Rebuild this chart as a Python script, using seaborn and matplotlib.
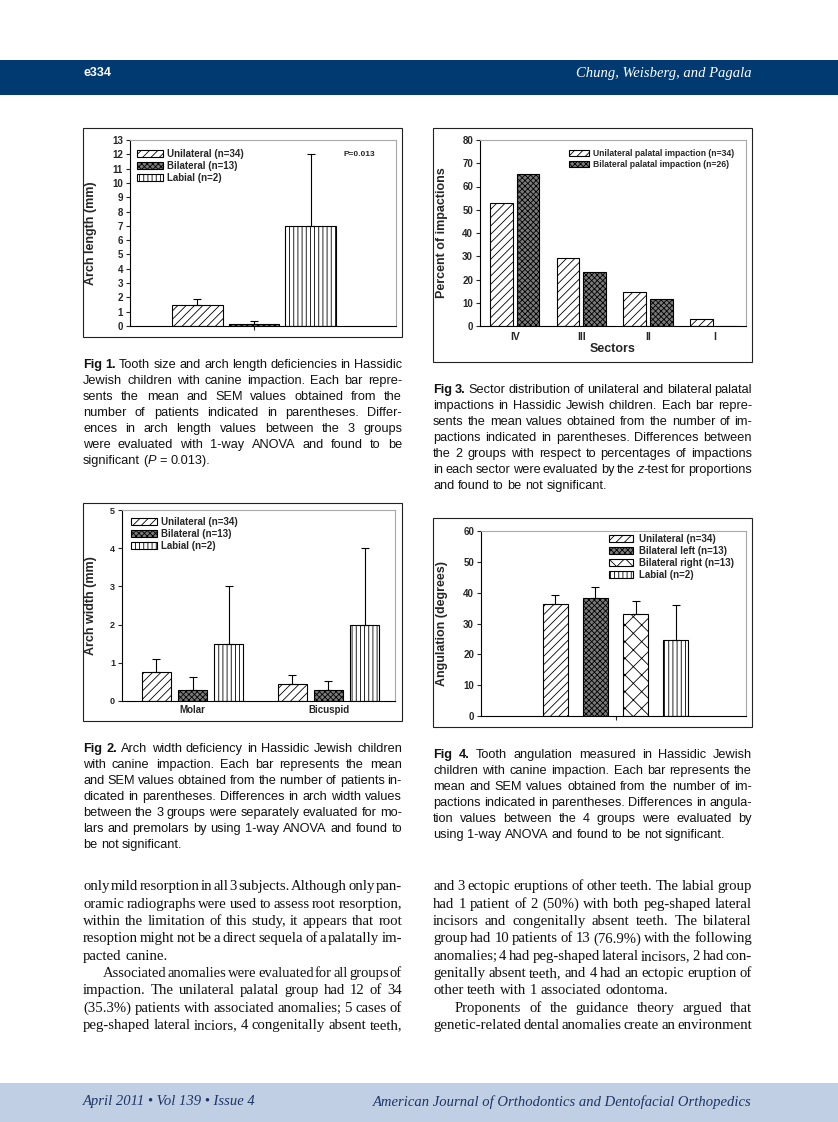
import re
import numpy as np
import pandas as pd
import matplotlib
matplotlib.use("Agg")
import matplotlib.pyplot as plt
import seaborn as sns
from matplotlib.patches import Rectangle, Patch
from matplotlib.font_manager import FontProperties

W, H = 838, 1122

# ---------------- data ----------------
fig1_groups = ["Unilateral (n=34)", "Bilateral (n=13)", "Labial (n=2)"]
fig1_mean = [1.5, 0.15, 7.0]
fig1_sem = [0.4, 0.2, 5.0]

fig2_sites = ["Molar", "Bicuspid"]
fig2_groups = ["Unilateral (n=34)", "Bilateral (n=13)", "Labial (n=2)"]
fig2_uni_mean = [0.75, 0.45]
fig2_bi_mean = [0.30, 0.30]
fig2_lab_mean = [1.5, 2.0]
fig2_uni_sem = [0.35, 0.24]
fig2_bi_sem = [0.32, 0.22]
fig2_lab_sem = [1.5, 2.0]

fig3_sectors = ["IV", "III", "II", "I"]
fig3_groups = ["Unilateral palatal impaction (n=34)", "Bilateral palatal impaction (n=26)"]
fig3_uni = [52.9, 29.4, 14.7, 2.9]
fig3_bi = [65.4, 23.1, 11.5, 0.0]

fig4_groups = ["Unilateral (n=34)", "Bilateral left (n=13)", "Bilateral right (n=13)", "Labial (n=2)"]
fig4_mean = [36.4, 38.2, 33.1, 24.5]
fig4_sem = [2.8, 3.5, 4.2, 11.5]

# ---------------- texts ----------------
header_left = "e334"
header_right = "Chung, Weisberg, and Pagala"
footer_left = "April 2011 \u2022 Vol 139 \u2022 Issue 4"
footer_right = "American Journal of Orthodontics and Dentofacial Orthopedics"

cap1 = ["*Fig* *1.* Tooth size and arch length deficiencies in Hassidic",
        "Jewish children with canine impaction. Each bar repre-",
        "sents the mean and SEM values obtained from the",
        "number of patients indicated in parentheses. Differ-",
        "ences in arch length values between the 3 groups",
        "were evaluated with 1-way ANOVA and found to be",
        "significant (_P_ = 0.013)."]
cap3 = ["*Fig* *3.* Sector distribution of unilateral and bilateral palatal",
        "impactions in Hassidic Jewish children. Each bar repre-",
        "sents the mean values obtained from the number of im-",
        "pactions indicated in parentheses. Differences between",
        "the 2 groups with respect to percentages of impactions",
        "in each sector were evaluated by the _z_-test for proportions",
        "and found to be not significant."]
cap2 = ["*Fig* *2.* Arch width deficiency in Hassidic Jewish children",
        "with canine impaction. Each bar represents the mean",
        "and SEM values obtained from the number of patients in-",
        "dicated in parentheses. Differences in arch width values",
        "between the 3 groups were separately evaluated for mo-",
        "lars and premolars by using 1-way ANOVA and found to",
        "be not significant."]
cap4 = ["*Fig* *4.* Tooth angulation measured in Hassidic Jewish",
        "children with canine impaction. Each bar represents the",
        "mean and SEM values obtained from the number of im-",
        "pactions indicated in parentheses. Differences in angula-",
        "tion values between the 4 groups were evaluated by",
        "using 1-way ANOVA and found to be not significant."]
body_left = ["only mild resorption in all 3 subjects. Although only pan-",
             "oramic radiographs were used to assess root resorption,",
             "within the limitation of this study, it appears that root",
             "resoption might not be a direct sequela of a palatally im-",
             "pacted canine.",
             ">Associated anomalies were evaluated for all groups of",
             "impaction. The unilateral palatal group had 12 of 34",
             "(35.3%) patients with associated anomalies; 5 cases of",
             "peg-shaped lateral inciors, 4 congenitally absent teeth,"]
body_right = ["and 3 ectopic eruptions of other teeth. The labial group",
              "had 1 patient of 2 (50%) with both peg-shaped lateral",
              "incisors and congenitally absent teeth. The bilateral",
              "group had 10 patients of 13 (76.9%) with the following",
              "anomalies; 4 had peg-shaped lateral incisors, 2 had con-",
              "genitally absent teeth, and 4 had an ectopic eruption of",
              "other teeth with 1 associated odontoma.",
              ">Proponents of the guidance theory argued that",
              "genetic-related dental anomalies create an environment"]

# ---------------- styles ----------------
sns.set_theme(style="ticks")
plt.rcParams["font.family"] = ["Liberation Sans", "DejaVu Sans"]
plt.rcParams["hatch.linewidth"] = 0.6

STY = {
    "uni": dict(fc="white", hatch="////"),
    "bi": dict(fc="#7a7a7a", hatch="xxxxxx"),
    "lab": dict(fc="white", hatch="||||"),
    "biR": dict(fc="white", hatch="xx"),
}

fig = plt.figure(figsize=(W / 100, H / 100), dpi=100)
fig.patch.set_facecolor("white")
renderer = fig.canvas.get_renderer()


def fx(x):
    return x / W


def fy(y):
    return 1 - y / H


def add_axes(l, r, t, b):
    return fig.add_axes([fx(l), fy(b), (r - l) / W, (b - t) / H])


def box(x0, y0, x1, y1, **kw):
    fig.add_artist(Rectangle((fx(x0), fy(y1)), (x1 - x0) / W, (y1 - y0) / H,
                             transform=fig.transFigure, **kw))


def style_axes(ax, ylim, yticks, ylabel, ylabel_x, tick_size=7):
    ax.set_ylim(*ylim)
    ax.set_yticks(yticks)
    ax.set_yticklabels([str(t) for t in yticks], fontsize=tick_size, fontweight="bold")
    ax.tick_params(axis="y", direction="out", length=3, width=0.8, pad=2, left=True)
    for s in ["left", "bottom"]:
        ax.spines[s].set_color("black")
        ax.spines[s].set_linewidth(0.8)
    for s in ["top", "right"]:
        ax.spines[s].set_visible(True)
        ax.spines[s].set_color("#a8a8a8")
        ax.spines[s].set_linewidth(0.8)
    ax.set_ylabel(ylabel, fontsize=9, fontweight="bold")
    ax.yaxis.set_label_coords(ylabel_x, 0.5)
    ax.set_facecolor("white")


def draw_bars(ax, df, order, hue_order, styles, gap, sem_table=None):
    pal = {h: STY[s]["fc"] for h, s in zip(hue_order, styles)}
    sns.barplot(data=df, x="cat", y="val", hue="grp", order=order, hue_order=hue_order,
                palette=pal, saturation=1, errorbar=None, gap=gap, legend=False,
                edgecolor="black", linewidth=0.8, ax=ax)
    for cont, s, h in zip(ax.containers, styles, hue_order):
        for p in cont:
            p.set_hatch(STY[s]["hatch"])
            p.set_edgecolor("black")
            if sem_table is not None:
                xc = p.get_x() + p.get_width() / 2
                idx = int(round(xc))
                ax.errorbar(xc, p.get_height(), yerr=[[0], [sem_table[h][idx]]], fmt="none",
                            ecolor="black", elinewidth=0.8, capsize=2.6, capthick=0.8, zorder=3)
    handles = [Patch(facecolor=STY[s]["fc"], hatch=STY[s]["hatch"], edgecolor="black",
                     linewidth=0.8, label=h) for h, s in zip(hue_order, styles)]
    return handles


def add_legend(ax, handles, anchor, size, hl, htp, ls):
    ax.legend(handles=handles, loc="upper left", bbox_to_anchor=anchor, frameon=False,
              prop={"size": size, "weight": "bold"}, handlelength=hl, handleheight=0.7,
              handletextpad=htp, labelspacing=ls, borderpad=0, borderaxespad=0)


# ---------------- Fig 1 ----------------
ax1 = add_axes(130, 396, 140, 326)
df1 = pd.DataFrame({"cat": ["a"] * 3, "grp": fig1_groups, "val": fig1_mean})
h1 = draw_bars(ax1, df1, ["a"], fig1_groups, ["uni", "bi", "lab"], 0.1,
               {g: [s] for g, s in zip(fig1_groups, fig1_sem)})
ax1.set_xlim(-0.585, 0.67)
style_axes(ax1, (0, 13), list(range(0, 14)), "Arch length (mm)", -0.124)
ax1.set_xticks([0])
ax1.set_xticklabels([""])
ax1.set_xlabel("")
ax1.tick_params(axis="x", direction="out", length=3, width=0.8, bottom=True)
add_legend(ax1, h1, (7 / 266, 1 - 9 / 186), 7, 2.7, 0.4, 0.2)
ax1.text((343 - 130) / 266, 1 - 14 / 186, "P=0.013", transform=ax1.transAxes,
         fontsize=6, fontweight="bold", ha="left", va="center")

# ---------------- Fig 3 ----------------
ax3 = add_axes(480, 746, 140, 326)
df3 = pd.DataFrame({"cat": fig3_sectors * 2,
                    "grp": [fig3_groups[0]] * 4 + [fig3_groups[1]] * 4,
                    "val": fig3_uni + fig3_bi})
h3 = draw_bars(ax3, df3, fig3_sectors, fig3_groups, ["uni", "bi"], 0.15)
ax3.set_xlim(-0.52, 3.47)
style_axes(ax3, (0, 80), list(range(0, 81, 10)), "Percent of impactions", -0.12)
ax3.tick_params(axis="x", length=0, pad=4, labelsize=7.5)
for t in ax3.get_xticklabels():
    t.set_fontweight("bold")
ax3.set_xlabel("Sectors", fontsize=9, fontweight="bold", labelpad=1)
add_legend(ax3, h3, ((569 - 480) / 266, 1 - 9 / 186), 6.2, 2.3, 0.45, 0.2)

# ---------------- Fig 2 ----------------
ax2 = add_axes(122, 395, 510, 701)
df2 = pd.DataFrame({"cat": fig2_sites * 3,
                    "grp": [fig2_groups[0]] * 2 + [fig2_groups[1]] * 2 + [fig2_groups[2]] * 2,
                    "val": fig2_uni_mean + fig2_bi_mean + fig2_lab_mean})
sem2 = {fig2_groups[0]: fig2_uni_sem, fig2_groups[1]: fig2_bi_sem, fig2_groups[2]: fig2_lab_sem}
h2 = draw_bars(ax2, df2, fig2_sites, fig2_groups, ["uni", "bi", "lab"], 0.2, sem2)
ax2.set_xlim(-0.52, 1.49)
style_axes(ax2, (0, 5), list(range(0, 6)), "Arch width (mm)", -0.092, tick_size=6.5)
ax2.tick_params(axis="x", length=0, pad=3, labelsize=7)
for t in ax2.get_xticklabels():
    t.set_fontweight("bold")
ax2.set_xlabel("")
add_legend(ax2, h2, (9 / 273, 1 - 7 / 191), 7, 2.7, 0.35, 0.2)

# ---------------- Fig 4 ----------------
ax4 = add_axes(481, 746, 531, 716)
df4 = pd.DataFrame({"cat": ["a"] * 4, "grp": fig4_groups, "val": fig4_mean})
h4 = draw_bars(ax4, df4, ["a"], fig4_groups, ["uni", "bi", "biR", "lab"], 0.39,
               {g: [s] for g, s in zip(fig4_groups, fig4_sem)})
ax4.set_xlim(-0.67, 0.65)
style_axes(ax4, (0, 60), list(range(0, 61, 10)), "Angulation (degrees)", -0.125)
ax4.set_xticks([0])
ax4.set_xticklabels([""])
ax4.set_xlabel("")
ax4.tick_params(axis="x", direction="out", length=3, width=0.8, bottom=True)
add_legend(ax4, h4, ((609 - 481) / 265, 1 - 3 / 185), 7, 2.5, 0.55, 0.2)

# ---------------- figure frames ----------------
for (x0, y0, x1, y1) in [(83, 128, 402, 337), (433, 128, 752, 362),
                         (83, 503, 402, 721), (433, 518, 752, 727)]:
    box(x0, y0, x1, y1, fill=False, edgecolor="#222222", linewidth=0.8)

# ---------------- header / footer ----------------
box(0, 60, W, 95, facecolor="#003a70", edgecolor="none")
box(0, 1083, W, H, facecolor="#c0cfe4", edgecolor="none")
fig.text(fx(83), fy(73), header_left, color="white", fontsize=9, fontweight="bold",
         family=["Liberation Sans Narrow", "Liberation Sans"], ha="left", va="center")
fig.text(fx(752), fy(73), header_right, color="white", fontsize=10.5, style="italic",
         family=["Liberation Serif"], ha="right", va="center")
fig.text(fx(83), fy(1102), footer_left, color="#1d3566", fontsize=10.5, style="italic",
         family=["Liberation Serif"], ha="left", va="center")
fig.text(fx(752), fy(1102), footer_right, color="#1d3566", fontsize=10.5, style="italic",
         family=["Liberation Serif"], ha="right", va="center")

# ---------------- justified paragraphs ----------------
SEG = re.compile(r"\*([^*]+)\*|_([^_]+)_|([^*_]+)")


def fprop(family, size, kind):
    return FontProperties(family=family, size=size,
                          weight="bold" if kind == "b" else "normal",
                          style="italic" if kind == "i" else "normal")


def tw(s, fp):
    w, h, d = renderer.get_text_width_height_descent(s, fp, ismath=False)
    return w


def parse_word(word):
    segs = []
    for m in SEG.finditer(word):
        if m.group(1):
            segs.append((m.group(1), "b"))
        elif m.group(2):
            segs.append((m.group(2), "i"))
        else:
            segs.append((m.group(3), "n"))
    return segs


def draw_line(line, x0, x1, yc, size, family, justify, indent=0, min_gap=0.35):
    words = [parse_word(w) for w in line.split(" ")]
    s = size
    avail = x1 - x0 - indent
    for _ in range(30):
        fps = {k: fprop(family, s, k) for k in "nbi"}
        space = tw("a a", fps["n"]) - tw("aa", fps["n"])
        widths = [sum(tw(t, fps[k]) for t, k in w) for w in words]
        nat = sum(widths) + space * (min_gap if justify else 1.0) * (len(words) - 1)
        if nat > avail:
            s *= 0.99
            continue
        break
    if justify and len(words) > 1:
        gap = (avail - sum(widths)) / (len(words) - 1)
    else:
        gap = space
    base = yc + 0.36 * size * 100 / 72
    x = x0 + indent
    for w, wd in zip(words, widths):
        xx = x
        for t, k in w:
            fig.text(fx(xx), fy(base), t, fontproperties=fps[k], ha="left", va="baseline",
                     color="#111111")
            xx += tw(t, fps[k])
        x += wd + gap


def draw_para(lines, x0, x1, y_first, pitch, size, family, indent_px=20, justify_last=False):
    for i, ln in enumerate(lines):
        ind = 0
        if ln.startswith(">"):
            ln = ln[1:]
            ind = indent_px
        if i == len(lines) - 1:
            last = not justify_last
        else:
            last = lines[i + 1].startswith(">")
        draw_line(ln, x0, x1, y_first + i * pitch, size, family, not last, ind)


cap_family = ["Liberation Sans"]
draw_para(cap1, 83, 402, 363, 16, 9.2, cap_family)
draw_para(cap3, 433, 752, 388, 16, 9.2, cap_family)
draw_para(cap2, 83, 402, 747, 16, 9.2, cap_family)
draw_para(cap4, 433, 752, 753, 16, 9.2, cap_family)

body_family = ["Liberation Serif"]
draw_para(body_left, 83, 402, 885, 17.35, 10.6, body_family, indent_px=20, justify_last=True)
draw_para(body_right, 433, 752, 885, 17.35, 10.6, body_family, indent_px=22, justify_last=True)

fig.savefig("out.png", dpi=100, facecolor="white")
